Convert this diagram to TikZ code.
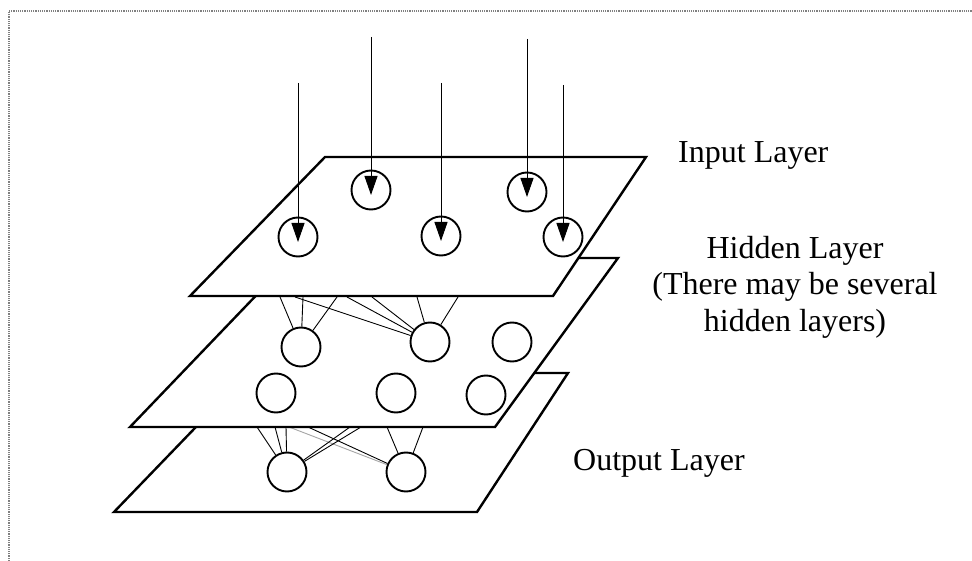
\documentclass[tikz,border=0pt]{standalone}
\usepackage{fontspec}
\setmainfont{Liberation Serif}
\usetikzlibrary{arrows.meta}
\tikzset{
      plane/.style={draw=black, fill=white, line width=2.4, line join=miter},
      neuron/.style={circle, draw=black, fill=white, line width=1.9, minimum size=39, inner sep=0},
      link/.style={draw=black, line width=0.9},
      flink/.style={draw=gray!70, line width=0.9},
      feed/.style={draw=black, line width=1, -{Triangle[length=19, width=13]}},
      layername/.style={font=\fontsize{32}{36.5}\selectfont, align=center, inner sep=0},
      frame/.style={draw=gray, line width=1.6, dash pattern=on 1.2 off 1},
}

\begin{document}
\begin{tikzpicture}[x=1pt, y=-1pt]
        \useasboundingbox (0,0) rectangle (972,561);

        % Output layer
        \draw[plane] (114,512) -- (477,512) -- (568,373) -- (248,373) -- cycle;
        \node[neuron] (o1) at (287,472) {};
        \node[neuron] (o2) at (406,472) {};

        % links coming out under the hidden layer
        \coordinate (hb1) at (257,427);
        \coordinate (hb2) at (275,427);
        \coordinate (hb3) at (286,427);
        \coordinate (hb4) at (289,427);
        \coordinate (hb5) at (308,427);
        \coordinate (hb6) at (350,427);
        \coordinate (hb7) at (361,427);
        \coordinate (hb8) at (387,427);
        \coordinate (hb9) at (423,427);
        \draw[link] (hb1) -- (o1);
        \draw[link] (hb2) -- (o1);
        \draw[link] (hb3) -- (o1);
        \draw[flink] (hb4) -- (o2);
        \draw[link] (hb5) -- (o2);
        \draw[link] (hb6) -- (o1);
        \draw[link] (hb7) -- (o1);
        \draw[link] (hb8) -- (o2);
        \draw[link] (hb9) -- (o2);

        % Hidden layer
        \draw[plane] (130,427) -- (495,427) -- (618,258) -- (292,258) -- cycle;
        \node[neuron] (h1) at (301,347) {};
        \node[neuron] (h2) at (430,342) {};
        \node[neuron] (h3) at (512,342) {};
        \node[neuron] (h4) at (276,393) {};
        \node[neuron] (h5) at (396,393) {};
        \node[neuron] (h6) at (486,395) {};

        % links coming out under the input layer
        \coordinate (ib1) at (280,297);
        \coordinate (ib2) at (303,297);
        \coordinate (ib3) at (337,297);
        \coordinate (ib4) at (295,297);
        \coordinate (ib5) at (347,297);
        \coordinate (ib6) at (372,297);
        \coordinate (ib7) at (417,297);
        \coordinate (ib8) at (458,297);
        \draw[link] (ib1) -- (h1);
        \draw[link] (ib2) -- (h1);
        \draw[link] (ib3) -- (h1);
        \draw[link] (ib4) -- (h2);
        \draw[link] (ib5) -- (h2);
        \draw[link] (ib6) -- (h2);
        \draw[link] (ib7) -- (h2);
        \draw[link] (ib8) -- (h2);

        % Input layer
        \draw[plane] (190,296) -- (553,296) -- (646,157) -- (325,157) -- cycle;
        \node[neuron] (i1) at (298,237) {};
        \node[neuron] (i2) at (371,190) {};
        \node[neuron] (i3) at (441,236) {};
        \node[neuron] (i4) at (527,192) {};
        \node[neuron] (i5) at (563,237) {};

        % incoming signals
        \coordinate (s1) at (298,83);
        \coordinate (s2) at (371,37);
        \coordinate (s3) at (441,83);
        \coordinate (s4) at (527,39);
        \coordinate (s5) at (563,85);
        \foreach \k in {1,...,5}
            \draw[feed] (s\k) -- ([yshift=-5]i\k.center);

        % Layer names
        \node[layername, anchor=base west] (inname) at (678,163) {Input Layer};
        \node[layername, anchor=base] (hidname) at (795,331)
            {Hidden Layer\\(There may be several\\hidden layers)};
        \node[layername, anchor=base west] (outname) at (573,470) {Output Layer};

        % page frame
        \draw[frame] (9,561) -- (9,11) -- (972,11);

    \end{tikzpicture}
\end{document}
